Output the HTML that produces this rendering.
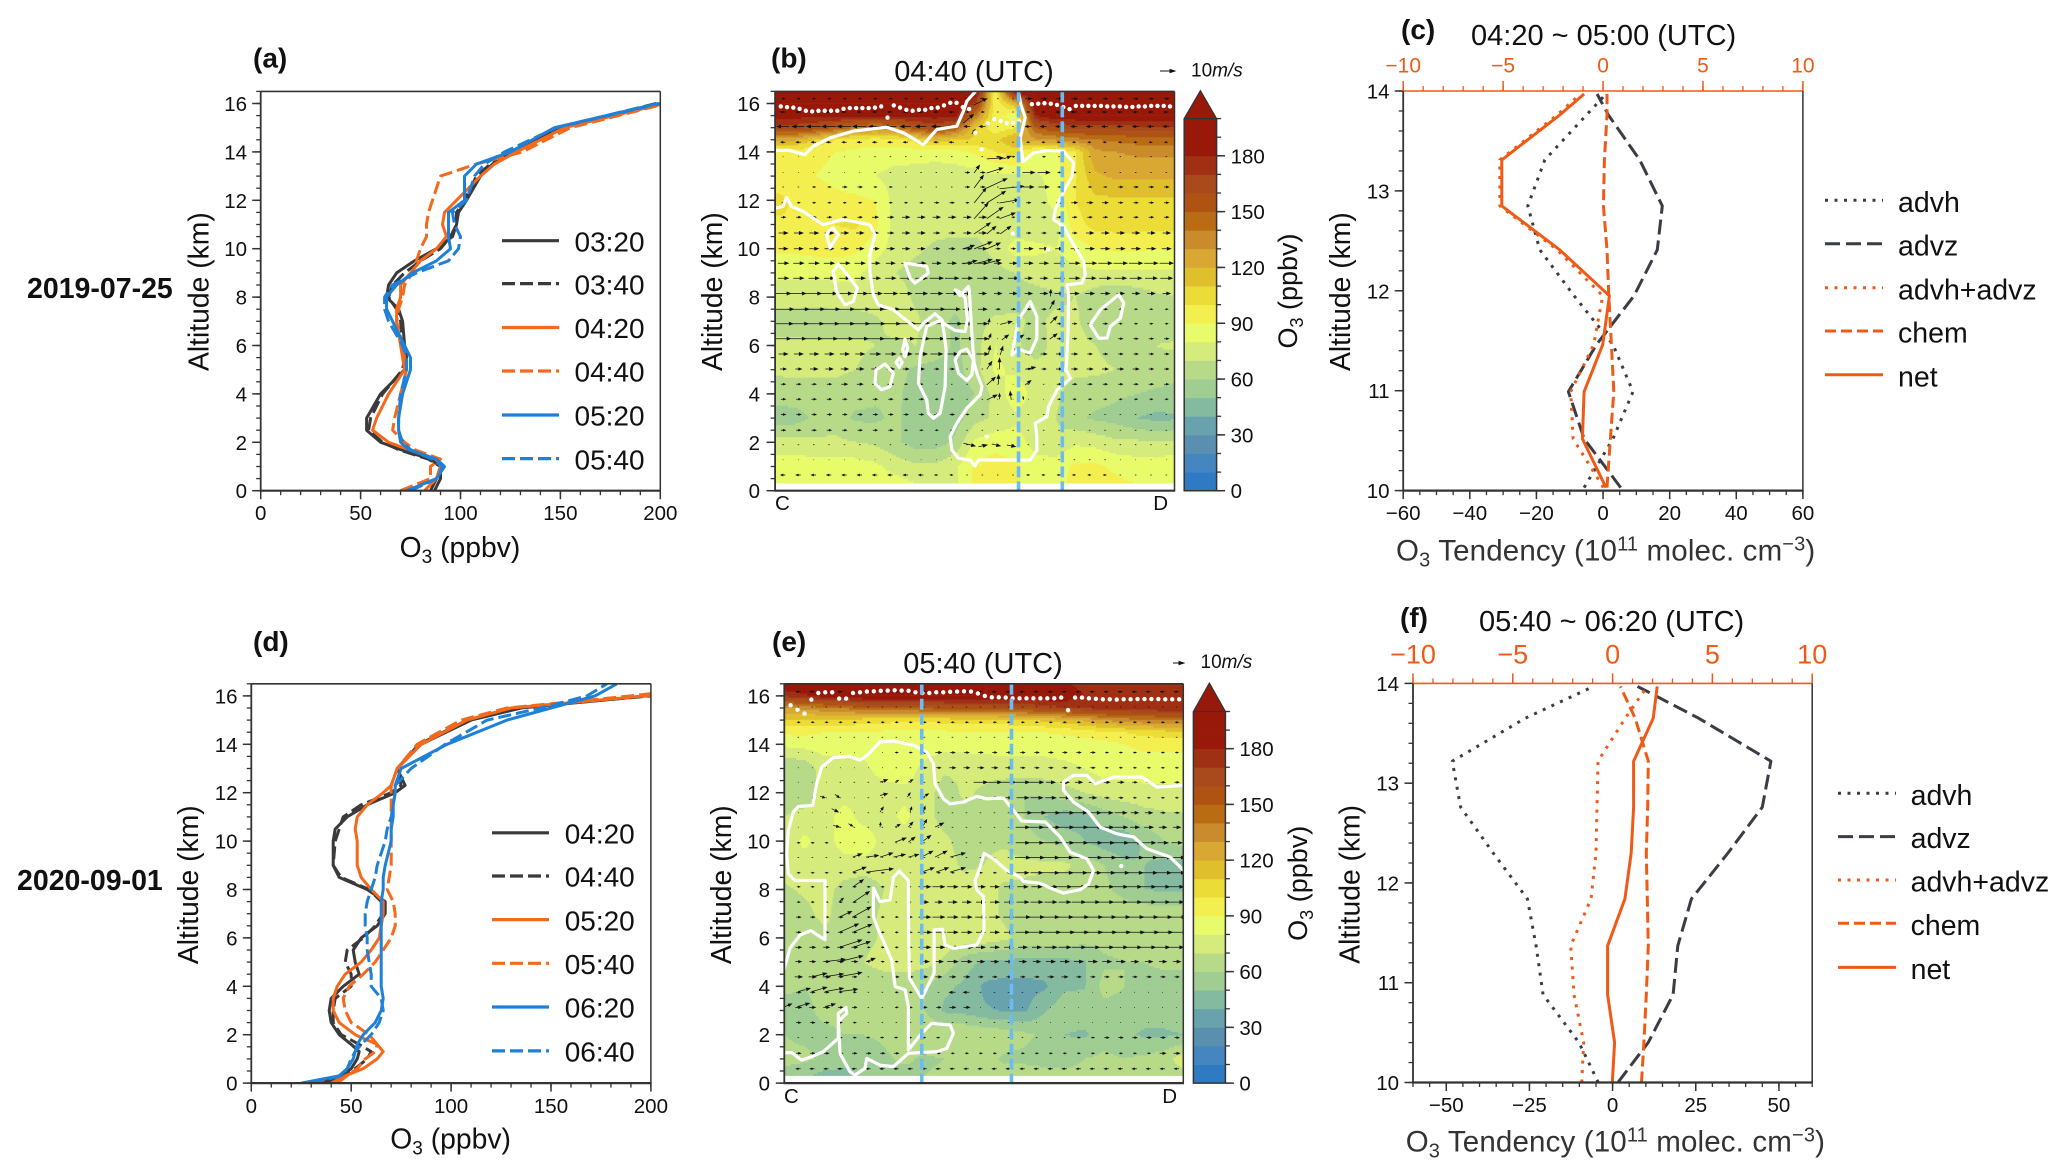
<!DOCTYPE html>
<html lang="en">
<head>
<meta charset="utf-8">
<title>Ozone profiles, cross sections and tendencies</title>
<style>
html,body{margin:0;padding:0;background:#fff;}
svg{display:block;font-family:"Liberation Sans",sans-serif;fill:#111;}
.tick{font-size:20.5px;}
.ttl{font-size:29px;}
.lab{font-size:28.3px;}
.tend{font-size:29.5px;letter-spacing:.15px;fill:#333;}
.leg{font-size:28px;}
.pan{font-size:28px;font-weight:bold;}
.date{font-size:28.5px;font-weight:bold;}
.ref{font-size:19px;}
</style>
</head>
<body>
<svg id="fig" xmlns="http://www.w3.org/2000/svg" width="2067" height="1176" viewBox="0 0 2067 1176">
<rect x="0" y="0" width="2067" height="1176" fill="#fff"/>
<defs>
<clipPath id="clipA"><rect x="260.7" y="91.4" width="399.6" height="399.3"/></clipPath>
<clipPath id="clipB"><rect x="775.1" y="91.4" width="399.4" height="399.3"/></clipPath>
<clipPath id="clipC"><rect x="1403.2" y="91" width="399.7" height="399.6"/></clipPath>
<clipPath id="clipD"><rect x="251.3" y="683.8" width="399.6" height="399.3"/></clipPath>
<clipPath id="clipE"><rect x="784.3" y="683.8" width="399" height="399.3"/></clipPath>
<clipPath id="clipF"><rect x="1413" y="683.4" width="399.2" height="399.1"/></clipPath>
</defs>

<text class="date" x="27" y="298">2019-07-25</text>
<text class="date" x="17" y="890">2020-09-01</text>

<text class="pan" x="253" y="67.5">(a)</text>
<text class="pan" x="771" y="67.5">(b)</text>
<text class="pan" x="1401" y="39">(c)</text>
<text class="pan" x="253" y="651">(d)</text>
<text class="pan" x="772" y="651">(e)</text>
<text class="pan" x="1400" y="627">(f)</text>

<g id="panelA"></g>
<g id="panelB"></g>
<g id="panelC"></g>
<g id="panelD"></g>
<g id="panelE"></g>
<g id="panelF"></g>

<!-- titles -->
<text class="ttl" x="974" y="81" text-anchor="middle">04:40 (UTC)</text>
<text class="ttl" x="983" y="673" text-anchor="middle">05:40 (UTC)</text>
<text class="ttl" x="1471" y="45">04:20 ~ 05:00 (UTC)</text>
<text class="ttl" x="1479" y="631">05:40 ~ 06:20 (UTC)</text>

<!-- y axis titles -->
<text class="lab" transform="translate(208.5 291.6) rotate(-90)" text-anchor="middle">Altitude (km)</text>
<text class="lab" transform="translate(722 291.6) rotate(-90)" text-anchor="middle">Altitude (km)</text>
<text class="lab" transform="translate(1350 291.6) rotate(-90)" text-anchor="middle">Altitude (km)</text>
<text class="lab" transform="translate(197.8 884.7) rotate(-90)" text-anchor="middle">Altitude (km)</text>
<text class="lab" transform="translate(731 884.7) rotate(-90)" text-anchor="middle">Altitude (km)</text>
<text class="lab" transform="translate(1359.7 884.3) rotate(-90)" text-anchor="middle">Altitude (km)</text>

<!-- x axis titles -->
<text class="lab" x="460" y="557" text-anchor="middle">O<tspan dy="6" font-size="19">3</tspan><tspan dy="-6"> (ppbv)</tspan></text>
<text class="lab" x="450.6" y="1148.4" text-anchor="middle">O<tspan dy="6" font-size="19">3</tspan><tspan dy="-6"> (ppbv)</tspan></text>
<text class="tend" x="1396" y="560.6">O<tspan dy="6" font-size="20">3</tspan><tspan dy="-6"> Tendency (10</tspan><tspan dy="-10" font-size="20">11</tspan><tspan dy="10"> molec. cm</tspan><tspan dy="-10" font-size="20">−3</tspan><tspan dy="10">)</tspan></text>
<text class="tend" x="1405.7" y="1151.6">O<tspan dy="6" font-size="20">3</tspan><tspan dy="-6"> Tendency (10</tspan><tspan dy="-10" font-size="20">11</tspan><tspan dy="10"> molec. cm</tspan><tspan dy="-10" font-size="20">−3</tspan><tspan dy="10">)</tspan></text>

<!-- colorbar titles -->
<text class="lab" font-size="27" transform="translate(1297 291) rotate(-90)" text-anchor="middle" style="font-size:27px">O<tspan dy="6" font-size="18">3</tspan><tspan dy="-6"> (ppbv)</tspan></text>
<text class="lab" transform="translate(1307 883.3) rotate(-90)" text-anchor="middle" style="font-size:27px">O<tspan dy="6" font-size="18">3</tspan><tspan dy="-6"> (ppbv)</tspan></text>

<!-- C / D endpoints -->
<text class="tick" x="775" y="510">C</text>
<text class="tick" x="1168" y="510" text-anchor="end">D</text>
<text class="tick" x="784" y="1103">C</text>
<text class="tick" x="1177" y="1103" text-anchor="end">D</text>

<!-- wind reference -->
<g>
<path d="M1160 71H1174M1170 69.4L1175 71L1170 72.6Z" stroke="#111" stroke-width=".9" fill="#111"/>
<text class="ref" x="1191" y="76.4">10<tspan font-style="italic">m/s</tspan></text>
</g>
<g>
<path d="M1173 663H1183M1179 661.4L1184 663L1179 664.6Z" stroke="#111" stroke-width=".9" fill="#111"/>
<text class="ref" x="1200.5" y="668">10<tspan font-style="italic">m/s</tspan></text>
</g>

<!-- legend a -->
<g stroke-width="3.2">
<line x1="502" x2="559" y1="240.7" y2="240.7" stroke="#3a3a3d"/>
<text class="leg" x="574.5" y="251.4" stroke="none">03:20</text>
<line x1="502" x2="559" y1="283.6" y2="283.6" stroke="#3a3a3d" stroke-dasharray="13 5"/>
<text class="leg" x="574.5" y="294.3" stroke="none">03:40</text>
<line x1="502" x2="559" y1="327.5" y2="327.5" stroke="#f4691c"/>
<text class="leg" x="574.5" y="338.2" stroke="none">04:20</text>
<line x1="502" x2="559" y1="371" y2="371" stroke="#f4691c" stroke-dasharray="13 5"/>
<text class="leg" x="574.5" y="381.7" stroke="none">04:40</text>
<line x1="502" x2="559" y1="415" y2="415" stroke="#1f80d8"/>
<text class="leg" x="574.5" y="425.7" stroke="none">05:20</text>
<line x1="502" x2="559" y1="458.6" y2="458.6" stroke="#1f80d8" stroke-dasharray="13 5"/>
<text class="leg" x="574.5" y="469.3" stroke="none">05:40</text>
</g>

<!-- legend d -->
<g stroke-width="3.2">
<line x1="492" x2="549" y1="832.8" y2="832.8" stroke="#3a3a3d"/>
<text class="leg" x="564.7" y="843.5" stroke="none">04:20</text>
<line x1="492" x2="549" y1="876" y2="876" stroke="#3a3a3d" stroke-dasharray="13 5"/>
<text class="leg" x="564.7" y="886.7" stroke="none">04:40</text>
<line x1="492" x2="549" y1="919.6" y2="919.6" stroke="#f4691c"/>
<text class="leg" x="564.7" y="930.3" stroke="none">05:20</text>
<line x1="492" x2="549" y1="963.3" y2="963.3" stroke="#f4691c" stroke-dasharray="13 5"/>
<text class="leg" x="564.7" y="974" stroke="none">05:40</text>
<line x1="492" x2="549" y1="1007" y2="1007" stroke="#1f80d8"/>
<text class="leg" x="564.7" y="1017.7" stroke="none">06:20</text>
<line x1="492" x2="549" y1="1050.9" y2="1050.9" stroke="#1f80d8" stroke-dasharray="13 5"/>
<text class="leg" x="564.7" y="1061.6" stroke="none">06:40</text>
</g>

<!-- legend c -->
<g stroke-width="3">
<line x1="1825" x2="1883" y1="200.2" y2="200.2" stroke="#3a3d45" stroke-dasharray="3 6.5"/>
<text class="leg" x="1898" y="211.8" stroke="none" style="font-size:28.5px">advh</text>
<line x1="1825" x2="1883" y1="243.8" y2="243.8" stroke="#3a3d45" stroke-dasharray="15 6"/>
<text class="leg" x="1898" y="255.4" stroke="none" style="font-size:28.5px">advz</text>
<line x1="1825" x2="1883" y1="287.8" y2="287.8" stroke="#ef5a17" stroke-dasharray="3 6.5"/>
<text class="leg" x="1898" y="299.4" stroke="none" style="font-size:28.5px">advh+advz</text>
<line x1="1825" x2="1883" y1="331" y2="331" stroke="#ef5a17" stroke-dasharray="11 5"/>
<text class="leg" x="1898" y="342.6" stroke="none" style="font-size:28.5px">chem</text>
<line x1="1825" x2="1883" y1="374.7" y2="374.7" stroke="#ef5a17"/>
<text class="leg" x="1898" y="386.3" stroke="none" style="font-size:28.5px">net</text>
</g>

<!-- legend f -->
<g stroke-width="3">
<line x1="1838" x2="1896" y1="793.3" y2="793.3" stroke="#3a3d45" stroke-dasharray="3 6.5"/>
<text class="leg" x="1910.6" y="804.9" stroke="none" style="font-size:28.5px">advh</text>
<line x1="1838" x2="1896" y1="836.6" y2="836.6" stroke="#3a3d45" stroke-dasharray="15 6"/>
<text class="leg" x="1910.6" y="848.2" stroke="none" style="font-size:28.5px">advz</text>
<line x1="1838" x2="1896" y1="880" y2="880" stroke="#ef5a17" stroke-dasharray="3 6.5"/>
<text class="leg" x="1910.6" y="891.6" stroke="none" style="font-size:28.5px">advh+advz</text>
<line x1="1838" x2="1896" y1="923.3" y2="923.3" stroke="#ef5a17" stroke-dasharray="11 5"/>
<text class="leg" x="1910.6" y="934.9" stroke="none" style="font-size:28.5px">chem</text>
<line x1="1838" x2="1896" y1="967.4" y2="967.4" stroke="#ef5a17"/>
<text class="leg" x="1910.6" y="979" stroke="none" style="font-size:28.5px">net</text>
</g>
</svg>

<script>
/* ---------- axis tick data ---------- */
const altitudeTicks = [0,2,4,6,8,10,12,14,16];
const o3Ticks = [0,50,100,150,200];
const colorbarTicks = [0,30,60,90,120,150,180];
const tendencyAltTicks = [10,11,12,13,14];
const tendencyTicksC = [-60,-40,-20,0,20,40,60];
const tendencyTicksF = [-50,-25,0,25,50];
const chemTicks = [-10,-5,0,5,10];

/* ---------- panel a: profiles ---------- */
const profileAltA = [0,0.5,1,1.3,1.7,2,2.5,3,4,5,5.5,6,7,7.5,8,8.5,9,9.5,10,10.5,11,11.5,12,13,13.5,14,15,16];
const a0320 = [87,90,90,85,70,60,53,53,60,72,73,72,71,69,63,64,68,77,88,96,98,99,103,110,116,127,150,200];
const a0340 = [85,88,90,84,69,61,54,55,61,71,72,71,70,68,64,66,72,80,90,95,98,98,102,108,115,127,148,198];
const a0420 = [82,88,90,88,74,64,56,58,64,72,71,70,68,68,70,70,75,80,88,93,91,92,98,110,117,128,152,202];
const a0440 = [70,85,85,90,77,72,66,67,70,73,72,71,68,69,71,72,76,78,80,83,83,84,86,90,108,131,155,203];
const a0520 = [73,88,92,88,74,70,69,69,71,75,75,72,66,63,63,68,76,88,95,94,94,94,102,102,108,125,147,199];
const a0540 = [75,88,91,86,75,71,69,69,70,73,73,71,64,62,62,66,78,94,99,100,97,96,103,107,112,122,148,200];

/* ---------- panel d: profiles ---------- */
const profileAltD = [0,0.3,0.6,1,1.3,1.6,2,2.5,3,3.5,4,4.5,5,5.5,6,6.5,7,7.5,8,8.5,9,10,10.5,11,11.5,12,12.3,13,14,15,15.5,16,16.5];
const d0420 = [38,45,50,53,54,50,44,40,39,40,46,54,52,51,55,63,67,67,58,44,41,41,42,48,58,72,77,73,85,110,135,198,260];
const d0440 = [35,45,52,58,60,54,45,41,41,42,50,50,47,48,56,62,66,65,59,45,41,42,44,46,55,70,75,73,84,108,132,200,260];
const d0520 = [40,47,56,63,66,63,52,44,41,41,43,47,55,60,64,65,66,66,60,55,53,53,52,53,58,66,70,73,85,108,130,197,255];
const d0540 = [43,48,53,57,62,63,59,50,47,46,49,56,62,66,70,72,72,71,68,69,70,70,70,70,70,70,70,73,83,105,128,190,245];
const d0620 = [25,44,48,51,52,53,56,62,65,66,65,65,65,65,65,65,65,65,66,66,67,70,70,71,71,72,72,75,98,128,150,172,183];
const d0640 = [30,45,48,50,52,55,60,64,66,65,60,60,59,58,58,57,57,58,60,62,63,67,68,70,71,72,72,80,97,118,145,168,178];

/* ---------- panel c: tendencies ---------- */
const tendAltC = [10.03,10.52,10.99,11.46,11.95,12.41,12.85,13.31,13.76,13.97];
const cAdvh = [-5.7,3,9,3,-8.7,-19,-22.6,-17.5,-5,0.9];
const cAdvz = [5.3,-5.7,-10.4,-2,9.3,16.3,17.8,11,1.6,-1.8];
const cAdvhAdvz = [0.1,-9,-9.7,-2.8,-0.1,-13.8,-31,-31,-13.8,-6.8];
const cChem = [0.2,0.37,0.54,0.42,0.29,0.2,0.02,0.07,0.2,0.2];
const cNet = [0.9,-6.2,-5.7,-0.1,1.9,-13,-30.4,-30.4,-13,-5.7];

/* ---------- panel f: tendencies ---------- */
const tendAltF = [10,10.4,10.88,11.37,11.84,12.3,12.76,13.22,13.65,13.97];
const fAdvh = [-4.3,-10.1,-20.9,-23,-25.6,-35.9,-45.7,-48.2,-26.3,-5.7];
const fAdvz = [1.6,10.7,18.2,19.6,23.7,34.7,45,47.6,25.9,7.5];
const fAdvhAdvz = [-9.3,-8.7,-11.6,-12.6,-6.5,-5,-4.7,-4.4,3.8,10.4];
const fChem = [1.45,1.57,1.69,1.79,1.74,1.69,1.76,1.79,1.13,0.39];
const fNet = [-0.1,0.6,-1.5,-1.5,3.7,5.6,6.3,6.3,12.2,13.4];

/* ---------- cross-section grids ---------- */
const sectionAltitudes = [0.3,1,2,3,4,5,6,7,8,9,10,11,12,13,14,14.5,15,15.5,16,16.5];
const sectionDistances = [0,60,120,180,240,300,360,420,480,540,600,660,720,780,840,900,960,1020,1080,1140,1200];
const o3GridB = [
[85,86,86,85,85,85,84,80,76,78,93,93,92,84,88,92,93,92,90,88,90],
[85,85,85,85,85,82,76,72,72,78,92,95,92,84,85,92,92,88,85,85,88],
[74,74,72,72,70,68,62,55,55,62,82,86,84,76,72,78,76,72,72,70,72],
[55,55,62,65,58,58,62,55,55,55,66,72,78,74,70,62,58,56,50,47,48],
[64,66,66,66,64,62,62,56,52,54,60,74,86,76,72,66,64,62,60,58,58],
[72,72,72,72,70,66,64,58,56,56,66,82,78,74,72,72,72,70,68,66,62],
[72,72,72,72,72,70,68,70,66,58,66,80,72,64,74,74,70,66,66,70,72],
[66,66,64,64,64,68,74,72,64,58,66,72,72,68,72,72,62,62,62,60,60],
[74,74,74,76,76,76,76,68,66,64,64,64,66,66,68,70,64,62,64,68,70],
[82,82,82,82,82,76,70,66,64,62,64,66,70,74,76,78,78,78,78,78,78],
[92,92,94,95,92,84,76,72,68,66,66,74,84,82,80,84,90,92,92,90,90],
[98,100,98,100,102,92,76,74,74,74,74,74,74,74,76,96,104,104,104,104,104],
[104,98,94,92,92,90,76,74,74,74,74,74,74,74,84,100,108,108,108,108,108],
[92,92,90,88,84,80,76,75,74,74,74,78,78,78,84,100,118,122,122,122,122],
[96,94,92,90,88,86,85,85,84,86,92,100,105,86,90,100,128,130,132,132,132],
[125,122,110,100,96,95,96,104,115,110,108,108,120,128,132,136,140,142,145,145,145],
[165,165,160,150,140,135,140,155,165,150,110,92,100,150,160,165,165,165,168,168,168],
[185,185,185,185,185,185,185,185,185,185,140,92,85,180,190,190,190,190,190,190,190],
[190,190,190,190,190,190,190,190,190,190,170,92,120,190,190,190,190,190,190,190,190],
[195,195,195,195,195,195,195,195,195,195,190,90,190,195,195,195,195,195,195,195,195]
];
const o3GridE = [
[58,52,46,46,52,56,56,60,62,62,64,64,64,64,64,64,64,64,64,64,66],
[62,62,58,54,52,58,62,58,60,62,64,58,58,56,54,60,62,60,62,66,76],
[60,58,58,60,60,62,66,68,70,70,68,66,62,58,50,48,56,52,48,48,50],
[56,58,62,62,62,62,60,60,48,46,41,39,38,49,56,56,56,56,56,56,58],
[62,60,62,62,60,60,62,60,52,48,38,36,36,38,48,49,64,60,56,56,56],
[66,68,66,66,70,76,76,74,68,54,48,47,47,47,47,49,58,60,60,62,62],
[62,60,66,70,66,72,76,76,76,76,76,72,66,66,66,64,64,64,64,62,62],
[62,66,74,62,66,72,76,76,76,76,74,68,66,66,66,66,66,66,66,66,66],
[68,72,74,66,62,70,76,76,76,76,74,68,68,66,64,64,62,56,50,48,48],
[76,76,76,76,76,76,76,76,74,68,70,74,72,72,72,66,60,52,50,46,46],
[74,82,76,84,86,76,76,76,72,66,68,68,64,60,56,50,44,42,52,60,64],
[70,74,76,84,76,76,82,74,66,66,68,66,60,50,44,46,54,60,66,68,68],
[62,62,74,76,76,76,78,76,64,72,68,62,60,62,66,70,74,76,76,76,76],
[60,62,76,76,78,84,84,78,72,72,74,76,76,76,78,80,84,84,86,86,86],
[82,84,84,84,84,84,84,84,84,84,84,84,84,84,84,84,86,90,92,92,92],
[92,92,90,90,90,88,88,88,88,90,90,90,90,90,92,95,98,100,104,106,108],
[108,108,108,108,105,104,102,102,104,106,106,106,108,112,116,122,130,135,138,140,142],
[130,132,138,140,150,150,150,152,155,156,156,158,160,165,170,172,175,175,178,180,180],
[172,178,185,188,190,190,190,190,190,190,190,190,190,190,188,180,178,175,176,178,180],
[190,190,190,190,190,190,190,190,190,190,190,190,190,190,182,176,176,176,172,172,172]
];

/* ---------- O3 contours: [distance, altitude] ---------- */
const contourBTop = [[0,14.06],[44,14.06],[89,13.89],[114,14.23],[164,14.58],[234,14.86],[334,15.02],[384,14.79],[444,14.3],[484,14.92],[524,15.02],[544,15.06],[564,15.68],[574,16.1],[599,16.48]];
const contourBLeft = [[0,11.68],[24,11.75],[34,12.12],[49,11.75],[84,11.54],[144,10.99],[199,11.2],[234,11.13],[284,10.99],[299,10.58],[284,9.75],[284,9.06],[294,8.1],[309,7.68],[354,7.48],[404,6.92],[429,6.65],[444,6.92],[479,7.31],[499,7.06],[506,6.51],[512,5.82],[509,4.3],[494,3.2],[474,2.99],[459,3.2],[454,3.75],[429,4.44],[434,5.54],[454,6.79],[499,7.06],[504,6.92],[539,6.62],[569,6.58],[576,7.06],[569,7.96],[556,8.19],[539,8.3],[554,8.07],[579,8.44],[582,8.17],[589,6.51],[596,5.27],[606,4.79],[620,4.3],[614,3.96],[574,3.41],[544,2.79],[524,2.23],[529,1.68],[549,1.34],[584,1.27],[599,1.02],[609,1.27],[764,1.27],[784,1.68],[784,2.23],[779,2.79],[814,3.06],[819,3.48],[844,4.17],[869,4.44],[884,4.65],[872,5],[877,6.51],[879,8.1],[874,8.51],[919,8.58],[929,8.92],[924,9.48],[894,10.17],[864,10.92],[834,11.2],[839,11.61],[864,12.37],[889,12.99],[894,13.54],[864,14.03],[814,14.06],[774,13.96],[742,13.59],[734,14.58],[749,15.41],[736,15.96],[729,16.48]];
const contourBLoop1 = [[164,10.79],[154,10.58],[164,10.03],[189,10.58],[174,10.86],[164,10.79]];
const contourBLoop2 = [[174,9.06],[189,9.37],[224,8.79],[246,8.37],[234,7.82],[209,7.68],[184,8.23],[174,9.06]];
const contourBLoop3 = [[389,9.41],[454,9.27],[459,8.99],[419,8.58],[404,8.79],[389,9.41]];
const contourBLoop4 = [[329,5.24],[354,4.86],[344,4.3],[319,4.17],[299,4.44],[302,4.99],[329,5.24]];
const contourBLoop5 = [[389,6.26],[397,5.89],[389,5.54],[382,5.82],[389,6.26]];
const contourBLoop6 = [[372,5.48],[381,5.3],[372,5.1],[362,5.3],[372,5.48]];
const contourBLoop7 = [[574,5.85],[594,5.41],[589,4.79],[574,4.55],[549,4.86],[539,5.41],[554,5.75],[574,5.85]];
const contourBLoop8 = [[764,7.82],[784,7.2],[784,6.3],[764,5.68],[729,5.85],[709,5.61],[729,7.06],[764,7.82]];
const contourBLoop9 = [[1029,8.1],[1044,7.75],[1034,7.13],[1004,6.79],[994,6.3],[969,6.3],[944,6.86],[974,7.48],[1029,8.1]];
const contourEMain = [[0,4.74],[17,5.57],[47,6.12],[79,6.3],[122,5.92],[122,8.37],[67,8.37],[32,8.37],[12,8.65],[7,9.48],[12,10.44],[27,11.2],[42,11.43],[85,11.48],[97,12.37],[112,13.06],[147,13.45],[197,13.5],[227,13.34],[252,13.59],[287,14.1],[327,14.14],[387,13.96],[427,13.68],[447,13.2],[452,12.37],[477,11.75],[497,11.54],[537,11.61],[577,11.85],[607,11.75],[657,11.78],[687,11.27],[712,10.83],[782,10.79],[827,10.17],[857,9.54],[907,9.27],[927,8.79],[912,8.23],[887,7.99],[837,7.85],[797,8.06],[767,8.26],[717,8.33],[707,8.51],[667,8.79],[627,9.27],[599,9.5],[587,8.92],[572,8.37],[577,7.99],[597,7.71],[599,6.33],[577,5.71],[507,5.57],[482,5.71],[474,6.36],[449,6.33],[449,4.54],[412,3.5],[375,4.33],[372,7.02],[372,8.37],[345,8.76],[327,8.51],[322,8.03],[317,7.57],[287,7.5],[267,8.06],[267,6.88],[282,6.33],[322,5.09],[332,3.99],[362,3.85],[372,3.16],[372,1.37],[412,2.06],[442,2.47],[497,2.4],[507,2.06],[487,1.43],[457,1.3],[372,1.23],[327,0.68],[287,0.74],[247,1.02],[242,0.61],[212,0.33],[197,0.47],[167,1.23],[162,2.54],[187,2.88],[185,3.13],[162,2.88],[162,1.85],[117,1.3],[82,1.09],[52,0.95],[22,1.26],[0,1.26]];
const contourERight = [[1197,12.3],[1117,12.23],[1072,12.65],[987,12.65],[932,12.37],[907,12.72],[867,12.72],[837,12.44],[837,12.1],[867,11.61],[912,11.2],[947,10.58],[997,10.3],[1047,10.17],[1087,9.68],[1157,9.34],[1197,8.79]];

/* ---------- tropopause dots (altitude by profile index) ---------- */
const tropopauseB = [15.88,15.85,15.83,15.78,15.70,15.67,15.70,15.70,15.70,15.70,15.78,15.81,15.81,15.81,15.81,15.83,15.88,15.42,15.92,15.83,15.74,15.70,15.74,15.74,15.81,15.83,15.92,16.03,16.03,15.85,15.77,14.8,14.11,15.19,15.35,15.28,15.19,15.21,15.28,null,15.97,15.99,16.01,15.99,15.94,15.85,15.77,15.90,15.90,15.90,15.90,15.90,15.88,15.88,15.88,15.86,15.86,15.88,15.88,15.90,15.90,15.90,15.88];
const tropopauseE = [null,15.61,15.43,15.27,15.85,16.12,16.15,16.15,15.89,15.89,16.12,16.15,16.18,16.19,16.21,16.22,16.23,16.22,16.21,16.15,16.12,16.12,16.15,16.15,16.17,16.18,16.19,16.18,16.1,16.0,15.94,15.94,15.93,15.9,15.9,15.9,15.9,15.9,15.9,15.9,15.93,15.41,15.93,15.93,15.9,15.88,15.86,15.86,15.85,15.86,15.86,15.87,15.87,15.87,15.87,15.86,15.86,15.86];
const extraDotsB = [[712,10.62],[817,9.97],[634,2.23],[869,5]];
const extraDotsE = [[1010,8.97]];
const sectionMarksB = [729,860];
const sectionMarksE = [412,681];

/* ---------- wind: zonal speed (m/s) by level and along-section block ---------- */
const windAltB = [0.65,1.28,1.9,2.5,3.15,3.78,4.4,5.03,5.65,6.28,6.9,7.5,8.15,8.78,9.4,10,10.65,11.3,11.9,12.55,13.15,13.8,14.4,15.05,15.65,16.2];
const windUB = [
[-3,-3,-3,-3,-3,-2,-1,-1,-2,-2,-2,-1,-1],
[.4,.4,.4,.4,.4,.4,.4,.4,.5,-1,-1,.4,.4],
[1,1,1,1,1,1,1,1,-1,-1,-1,1,1],
[3,3,3,3,2,2,1,1,1,1,1,1,1],
[3,3,3,3,3,3,2,1,1,1,1,1,1],
[3,3,3,3,3,2,1,.5,.5,2,2,2,2],
[3,3,4,4,2,-1,-1,.5,1,3,3,3,3],
[4,5,5,5,4,3,1,.5,3,4,4,4,3],
[6,6,6,7,8,8,8,.5,4,4,3,3,3],
[10,11,11,12,11,10,8,.5,3,3,3,3,3],
[13,13,13,13,13,13,7,.5,3,3,3,2,2],
[14,14,13,12,11,11,6,3,3,3,3,2,2],
[10,10,10,9,8,8,5,5,5,6,6,5,5],
[7,7,7,7,8,9,7,7,5,7,8,8,8],
[7,7,7,6,6,6,7,5,6,7,9,9,9],
[6,6,5,5,5,4,6,3,6,5,6,6,6],
[6,6,5,4,5,4,5,2,3,3,5,5,5],
[3,3,3,4,5,5,5,2,3,3,3,3,3],
[2,2,2,2,2,3,2,1,3,4,4,3,3],
[1,2,3,2,1,1,3,1,7,2,2,3,3],
[.5,.5,.5,1,1,1,3,1,8,2,1,1,1],
[.5,.5,.5,1,1,1,1,2,2,1,1,1,1],
[-3,-3,-3,-3,-3,-3,-1,-1,-2,-2,-2,-2,-2],
[-8,-9,-9,-8,-7,-6,-4,1,-4,-4,-4,-4,-4],
[-3,-3,-3,-3,-3,-3,2,1,-2,-4,-3,-3,-3],
[2,2,2,2,2,2,3,1,4,4,3,3,3]
];
const windAltE = [0.59,1.23,1.88,2.5,3.13,3.75,4.39,5.02,5.61,6.23,6.86,7.48,8.11,8.69,9.32,9.93,10.57,11.17,11.79,12.43,13.03,13.66,14.29,14.91,15.54,16.17];
const windUE = [
[-3,-3,-3,-3,-3,-3,-3,-3,-3,-3,-3,-3,-3],
[3,3,3,3,2,2,2,2,2,2,2,2,4],
[1,2,-2,-2,-2,-1,1,1,1,2,3,3,3],
[3,2,-1,1,-1,1,1,.5,.5,.5,.5,.5,.5],
[4,3,1,2,3,4,.5,.5,.5,.5,.5,.5,.5],
[3,2,1,2,1,-4,1,1,.5,.5,.5,.5,.5],
[5,3,1,3,4,4,3,3,4,3,3,3,3],
[4,4,2,2,6,7,5,5,6,6,6,5,5],
[4,4,2,2,8,8,6,6,8,9,9,9,9],
[3,3,2,2,9,7,6,9,13,13,13,13,13],
[3,3,2,2,8,7,7,10,11,13,12,12,12],
[2,2,1,1,5,6,6,8,8,9,9,9,9],
[2,2,2,1,8,7,6,7,9,9,9,9,9],
[2,2,2,1,2,2,2,8,11,11,11,11,11],
[1,1,1,1,1,1,1,10,11,12,12,11,11],
[2,1,1,1,1,1,1,9,12,12,10,9,7],
[.5,-1,1,1,1,1,1,9,12,12,9,6,5],
[.5,.5,-1,.5,1,1,1,12,12,11,8,5,3],
[.5,.5,1,1,1,1,4,8,7,5,3,2,2],
[.5,1,1,1,1,1,9,9,6,5,4,3,3],
[.5,.5,.5,1,3,4,4,3,3,3,2,2,2],
[.5,.5,.5,2,4,3,3,3,3,3,2,2,2],
[1,1,1,1,1,1,1,1,1,1,1,1,1],
[2,2,2,2,2,2,2,2,2,2,2,2,2],
[-1,-1,-1,-1,-1,-1,-1,-1,-1,-1,-1,-1,-1],
[-3,-3,-3,-3,-3,-3,-3,-3,-3,-3,-3,-3,-3]
];
/* individually read slanted wind arrows: [distance, altitude, u, w] */
const slantWindB = [
[596,13.13,3.6,5.1],[596,12.51,6.2,8.4],[634,13.13,10.7,3.3],[634,12.51,13.3,6.2],[672,12.48,16,1.6],[596,11.89,8,10],[634,11.89,12.4,7.8],[672,11.89,12.7,2.2],[596,11.24,9.3,10.4],[634,11.24,10.7,7.6],[672,11.24,10.4,3.8],[596,10.61,10.7,7.3],[674,10.61,7.1,5.1],[634,10.61,6,5],[562,9.99,7.6,2.4],[596,9.99,11.8,4.7],[634,9.99,8.9,4],[562,9.37,9.3,2.2],[596,9.37,11.8,2.9],[634,9.4,8.9,2.2],[634,13.71,11,.7],[684,13.71,4.9,1.8],[564,15.2,6.7,5.6],[594,15.93,8.9,4.4],[589,14.74,2.2,2.9],
[639,6.86,.7,3.8],[639,6.23,1.6,4],[639,5.66,1.1,5.3],[634,5.02,3.3,5.1],[634,4.37,5.6,5.1],[634,3.75,6.7,3.3],[674,5.61,1.8,5.6],[672,5.02,0,7.3],[669,4.4,0,6.2],[672,3.78,0,3.6],[707,3.75,-.7,5.6],[744,3.75,-.4,2.2],[711,5.61,1.1,5.6],[719,6.23,5.6,3.3],[674,6.87,7.8,2],[679,6.23,4.4,3.3],[824,6.92,4.4,4.4],[822,6.26,4.9,3.6],[822,7.5,3.1,5.8],[824,8.03,.4,4.4],[749,5.02,6.7,1.3],[749,4.37,3.8,2.9],[564,1.96,7.8,-1.8],[609,1.82,5.6,1.1],[649,1.93,5.6,-1.3],[694,1.89,5.6,-1.1]
];
const slantWindE = [
[205,7.46,11.1,7.3],[165,6.86,8.2,3.8],[205,6.86,12,6.7],[165,6.23,12.7,5.6],[205,6.23,12.7,5.3],[165,5.61,14.9,4.9],[205,5.61,11.6,3.8],[122,5.02,13.3,1.6],[165,5.02,15.6,3.8],[245,5.02,6,2.2],[85,4.4,9.3,2.2],[122,4.4,12.2,1.8],[165,4.4,14.9,2.7],[42,3.78,7.8,2.2],[82,3.78,10,2.9],[122,3.78,12.2,2.2],[165,3.78,12,1.6],[2,3.16,4.4,1.8],[39,3.16,8,2.2],[122,3.16,6.7,1.8],[205,8.1,7.1,4.9],[165,7.5,2.7,2.2],
[205,8.72,8.9,3.3],[205,9.34,6,2.2],[245,9.34,8.2,1.1],[287,9.34,8.4,2.7],[327,9.34,7.8,1.8],[372,9.34,6.7,1.8],[412,9.34,7.3,4],[452,9.34,7.8,4],[497,9.34,10,2.7],[245,8.72,18,2.2],[412,8.72,8.2,2.9],[455,8.72,8.2,2.9],[497,8.72,10,2.9],[412,9.96,6,4.4],[452,10.58,5.6,2.7],[417,10.65,2.2,3.8],[372,10.58,2.9,3.3],[332,10.58,3.3,1.8],[287,10.58,.4,2.9],[332,9.96,7.3,2.7],[372,9.96,4.4,3.3],[142,11.34,4.4,-2.2],[152,11.93,2.9,-2.2],[107,11.85,3.3,-.9],[287,11.89,4.9,1.1],[369,11.82,1.8,2.7],[417,11.82,3.3,2.2],[287,12.44,4.9,1.6],[332,12.44,2.2,1.1],[372,12.44,2.9,1.6],[147,10.65,4,-1.1],[192,10.72,2.9,-1.6],[287,11.2,2.2,3.3],[377,11.2,1.1,3.3],[417,11.2,1.1,3.8]
];

/* colour scale, one colour per 10 ppbv band */
const o3BandColors = ['#2e7bc3','#4686c0','#5a8fb0','#68a3ad','#84bba0','#9fcd92','#b6da88','#d5eb7c','#e8fb6a','#f4ef50','#ecdc37','#dfbf2c','#d9a833','#c98b2c','#b96c14','#ae5314','#a84a1c','#a03014','#98190a','#98190a'];

const NS = 'http://www.w3.org/2000/svg';
const DARK = '#3a3a3d', AXIS = '#333', ORANGE = '#f4691c', BLUE = '#1f80d8', RED = '#ef5a17', DARK2 = '#3a3d45';

function mk(parent, tag, attrs, text) {
  const e = document.createElementNS(NS, tag);
  for (const k in attrs) e.setAttribute(k, attrs[k]);
  if (text !== undefined) e.textContent = text;
  parent.appendChild(e);
  return e;
}
function fmt(v) { return String(v).replace('-', '\u2212'); }

function linear(d0, d1, r0, r1) { return v => r0 + (v - d0) / (d1 - d0) * (r1 - r0); }

function hLine(g, x1, x2, y, color, w, name) {
  const e = mk(g, 'line', {x1: x1, x2: x2, y1: y, y2: y, stroke: color, 'stroke-width': w});
  
  
}
function vLine(g, x, y1, y2, color, w, name) {
  const e = mk(g, 'line', {x1: x, x2: x, y1: y1, y2: y2, stroke: color, 'stroke-width': w});
  
  
}
function label(g, x, y, anchor, txt, color, size, name) {
  const e = mk(g, 'text', {x: x, y: y, 'text-anchor': anchor, fill: color, 'font-size': size}, txt);
  
  
}

function yAxis(g, p, yS, ticks, minorStep, lo, hi, labelRight) {
  for (let v = lo; v <= hi + 1e-6; v += minorStep) {
    hLine(g, p.l - 4.5, p.l, yS(v), AXIS, 1.3, 'y-minor-tick');
  }
  ticks.forEach(t => {
    hLine(g, p.l - 8.5, p.l, yS(t), AXIS, 1.5, 'y-major-tick');
    label(g, labelRight, yS(t) + 7.5, 'end', fmt(t), '#111', 20.5, 'y-tick-label');
  });
}
function xAxis(g, p, xS, ticks, minorStep, lo, hi, base) {
  for (let v = lo; v <= hi + 1e-6; v += minorStep) {
    vLine(g, xS(v), p.b, p.b + 4.5, AXIS, 1.3, 'x-minor-tick');
  }
  ticks.forEach(t => {
    vLine(g, xS(t), p.b, p.b + 8.5, AXIS, 1.5, 'x-major-tick');
    label(g, xS(t), base, 'middle', fmt(t), '#111', 20.5, 'x-tick-label');
  });
}
function frame(g, p, topColor) {
  hLine(g, p.l, p.r, p.t, topColor, 1.6, 'plot-top-spine');
  vLine(g, p.r, p.t, p.b, AXIS, 1.5, 'plot-right-spine');
  vLine(g, p.l, p.t, p.b, AXIS, 1.8, 'plot-left-spine');
  hLine(g, p.l - 0.7, p.r + 0.7, p.b, AXIS, 2.2, 'plot-bottom-spine');
}
function seriesLine(g, alts, vals, xS, yS, color, dash, w, clip, name) {
  const pts = vals.map((v, i) => xS(v).toFixed(1) + ',' + yS(alts[i]).toFixed(1)).join(' ');
  const e = mk(g, 'polyline', {points: pts, fill: 'none', stroke: color, 'stroke-width': w, 'stroke-linejoin': 'round', 'stroke-dasharray': dash, 'clip-path': 'url(#' + clip + ')'});
  
  
}

/* ---- profile panels ---- */
function profilePanel(id, p, clip, alts, series, labelRight, tickBase) {
  const g = document.getElementById(id);
  const xS = linear(0, 200, p.l, p.r), yS = linear(0, 16.5, p.b, p.t);
  series.forEach(s => seriesLine(g, alts, s.v, xS, yS, s.c, s.d, 3, clip, s.n));
  frame(g, p, AXIS);
  yAxis(g, p, yS, altitudeTicks, 0.5, 0, 16.5, labelRight);
  xAxis(g, p, xS, o3Ticks, 10, 0, 200, tickBase);
}
profilePanel('panelA', {l: 260.7, r: 660.3, t: 91.4, b: 490.7}, 'clipA', profileAltA, [
  {v: a0320, c: DARK, d: 'none', n: 'series-0320'},
  {v: a0340, c: DARK, d: '13 5', n: 'series-0340'},
  {v: a0420, c: ORANGE, d: 'none', n: 'series-0420'},
  {v: a0440, c: ORANGE, d: '13 5', n: 'series-0440'},
  {v: a0520, c: BLUE, d: 'none', n: 'series-0520'},
  {v: a0540, c: BLUE, d: '13 5', n: 'series-0540'}
], 247, 520);
profilePanel('panelD', {l: 251.3, r: 650.9, t: 683.8, b: 1083.1}, 'clipD', profileAltD, [
  {v: d0420, c: DARK, d: 'none', n: 'series-0420'},
  {v: d0440, c: DARK, d: '13 5', n: 'series-0440'},
  {v: d0520, c: ORANGE, d: 'none', n: 'series-0520'},
  {v: d0540, c: ORANGE, d: '13 5', n: 'series-0540'},
  {v: d0620, c: BLUE, d: 'none', n: 'series-0620'},
  {v: d0640, c: BLUE, d: '13 5', n: 'series-0640'}
], 237.5, 1113);

/* ---- tendency panels ---- */
function tendencyPanel(id, p, clip, alts, s, ticks, labelRight, tickBase, topBase, topSize) {
  const g = document.getElementById(id);
  const xS = linear(-60, 60, p.l, p.r), xT = linear(-10, 10, p.l, p.r), yS = linear(10, 14, p.b, p.t);
  seriesLine(g, alts, s.advh, xS, yS, DARK2, '3 6.5', 3, clip, 'series-advh');
  seriesLine(g, alts, s.advz, xS, yS, DARK2, '15 6', 3, clip, 'series-advz');
  seriesLine(g, alts, s.sum, xS, yS, RED, '3 6.5', 3, clip, 'series-advh-advz');
  seriesLine(g, alts, s.chem, xT, yS, RED, '11 5', 3, clip, 'series-chem');
  seriesLine(g, alts, s.net, xS, yS, RED, 'none', 3, clip, 'series-net');
  frame(g, p, RED);
  yAxis(g, p, yS, tendencyAltTicks, 0.2, 10, 14, labelRight);
  xAxis(g, p, xS, ticks, 5, -60, 60, tickBase);
  for (let v = -10; v <= 10; v += 1) {
    vLine(g, xT(v), p.t - 5, p.t, RED, 1.3, 'top-minor-tick');
  }
  chemTicks.forEach(t => {
    vLine(g, xT(t), p.t - 10, p.t, RED, 1.5, 'top-major-tick');
    label(g, xT(t), topBase, 'middle', fmt(t), RED, topSize, 'top-tick-label');
  });
}
tendencyPanel('panelC', {l: 1403.2, r: 1802.9, t: 91, b: 490.6}, 'clipC', tendAltC,
  {advh: cAdvh, advz: cAdvz, sum: cAdvhAdvz, chem: cChem, net: cNet}, tendencyTicksC, 1389.5, 520, 72.6, 21);
tendencyPanel('panelF', {l: 1413, r: 1812.2, t: 683.4, b: 1082.5}, 'clipF', tendAltF,
  {advh: fAdvh, advz: fAdvz, sum: fAdvhAdvz, chem: fChem, net: fNet}, tendencyTicksF, 1399, 1112, 663.6, 27);

/* ---- cross sections ---- */
function bracket(arr, v) {
  let i = 0;
  while (i < arr.length - 2 && arr[i + 1] < v) i++;
  return i;
}
function heatmap(g, p, grid, xInv, yInv) {
  const paths = o3BandColors.map(() => []);
  const STEP = 2;
  for (let y = p.t; y < p.b; y += STEP) {
    const alt = yInv(y + STEP / 2);
    if (alt < sectionAltitudes[0]) continue;
    const r = bracket(sectionAltitudes, alt);
    const ft = Math.min(1, (alt - sectionAltitudes[r]) / (sectionAltitudes[r + 1] - sectionAltitudes[r]));
    let runStart = p.l, runBand = -1;
    for (let x = p.l; x <= p.r + 0.01; x += 1) {
      const d = xInv(x + 0.5);
      const c = bracket(sectionDistances, d);
      const fx = Math.max(0, Math.min(1, (d - sectionDistances[c]) / (sectionDistances[c + 1] - sectionDistances[c])));
      const v = (grid[r][c] * (1 - fx) + grid[r][c + 1] * fx) * (1 - ft) + (grid[r + 1][c] * (1 - fx) + grid[r + 1][c + 1] * fx) * ft;
      const band = x > p.r ? -2 : Math.max(0, Math.min(19, Math.floor(v / 10)));
      if (band !== runBand) {
        if (runBand >= 0) paths[runBand].push('M' + runStart.toFixed(1) + ' ' + y.toFixed(1) + 'h' + (x - runStart).toFixed(1) + 'v' + STEP + 'h' + (runStart - x).toFixed(1) + 'z');
        runStart = x;
        runBand = band;
      }
    }
    if (runBand >= 0) paths[runBand].push('M' + runStart.toFixed(1) + ' ' + y.toFixed(1) + 'H' + p.r + 'v' + STEP + 'H' + runStart.toFixed(1) + 'z');
  }
  paths.forEach((segs, i) => {
    if (!segs.length) return;
    const e = mk(g, 'path', {d: segs.join(''), fill: o3BandColors[i], stroke: o3BandColors[i], 'stroke-width': 0.3});
    
    
  });
}
function arrow(g, x0, y0, x1, y1) {
  const dx = x1 - x0, dy = y1 - y0, len = Math.hypot(dx, dy) || 1;
  const ux = dx / len, uy = dy / len;
  let d = 'M' + x0.toFixed(1) + ' ' + y0.toFixed(1) + 'L' + x1.toFixed(1) + ' ' + y1.toFixed(1);
  if (len >= 2.5) {
    const hl = Math.min(3.6, len * 0.45), hw = Math.min(1.4, len * 0.18);
    const bx = x1 - ux * hl, by = y1 - uy * hl;
    d += 'M' + x1.toFixed(1) + ' ' + y1.toFixed(1) + 'L' + (bx - uy * hw).toFixed(1) + ' ' + (by + ux * hw).toFixed(1) +
      'L' + (bx + uy * hw).toFixed(1) + ' ' + (by - ux * hw).toFixed(1) + 'Z';
  }
  const e = mk(g, 'path', {d: d, stroke: '#111', 'stroke-width': 0.75, fill: '#111'});
  
  
}
function contour(g, pts, xS, yS) {
  const s = pts.map(q => xS(q[0]).toFixed(1) + ',' + yS(q[1]).toFixed(1)).join(' ');
  const e = mk(g, 'polyline', {points: s, fill: 'none', stroke: '#fff', 'stroke-width': 3.2, 'stroke-linejoin': 'round', 'stroke-linecap': 'round'});
  
  
}
function sectionPanel(id, p, clip, cfg) {
  const g = document.getElementById(id);
  const inner = mk(g, 'g', {'clip-path': 'url(#' + clip + ')'});
  
  
  const xS = linear(0, 1196, p.l, p.r), yS = linear(0, 16.5, p.b, p.t);
  const xInv = linear(p.l, p.r, 0, 1196), yInv = linear(p.b, p.t, 0, 16.5);
  heatmap(inner, p, cfg.grid, xInv, yInv);

  cfg.windAlt.forEach((alt, r) => {
    for (let c = 0; c < cfg.nCols; c++) {
      const u = cfg.windU[r][Math.floor(c * 13 / cfg.nCols)];
      const cx = xS(cfg.firstD + c * cfg.stepD), cy = yS(alt), half = u * 1.5 / 2;
      arrow(inner, cx - half, cy, cx + half, cy);
    }
  });
  cfg.slant.forEach(a => {
    const x0 = xS(a[0]), y0 = yS(a[1]);
    arrow(inner, x0, y0, x0 + a[2] * 1.5, y0 - a[3] * 1.5);
  });
  cfg.contours.forEach(c => contour(inner, c, xS, yS));
  cfg.marks.forEach(d => {
    const e = mk(g, 'line', {x1: xS(d), x2: xS(d), y1: p.t, y2: p.b, stroke: '#6cbcf3', 'stroke-width': 3.6, 'stroke-dasharray': '11 4'});
    
    
  });
  cfg.tropopause.forEach((alt, i) => {
    if (alt === null) return;
    const e = mk(inner, 'circle', {cx: xS(cfg.dotFirst + i * cfg.dotStep), cy: yS(alt), r: 2.2, fill: '#fff'});
    
    
  });
  cfg.extra.forEach(q => {
    const e = mk(inner, 'circle', {cx: xS(q[0]), cy: yS(q[1]), r: 2.2, fill: '#fff'});
    
    
  });
  frame(g, p, AXIS);
  yAxis(g, p, yS, altitudeTicks, 0.5, 0, 16.5, cfg.labelRight);

  /* colorbar */
  const cb = cfg.cb, vS = linear(0, 200, p.b, cb.top);
  const cg = mk(g, 'g', {});
  
  
  o3BandColors.forEach((col, i) => {
    const y1 = vS((i + 1) * 10), y0 = vS(i * 10);
    const e = mk(cg, 'rect', {x: cb.l, y: y1, width: cb.r - cb.l, height: y0 - y1 + 0.4, fill: col});
    
    
  });
  const tip = mk(cg, 'path', {d: 'M' + cb.l + ' ' + cb.top + 'L' + (cb.l + cb.r) / 2 + ' ' + cb.tip + 'L' + cb.r + ' ' + cb.top + 'Z', fill: o3BandColors[19], stroke: AXIS, 'stroke-width': 1.2});
  
  
  const box = mk(cg, 'path', {d: 'M' + cb.l + ' ' + cb.top + 'V' + p.b + 'H' + cb.r + 'V' + cb.top, fill: 'none', stroke: AXIS, 'stroke-width': 1.5});
  
  
  for (let v = 0; v <= 200; v += 10) {
    hLine(cg, cb.r, cb.r + 4.5, vS(v), AXIS, 1.3, 'colorbar-minor-tick');
  }
  colorbarTicks.forEach(t => {
    hLine(cg, cb.r, cb.r + 8.5, vS(t), AXIS, 1.5, 'colorbar-major-tick');
    label(cg, cb.r + 14, vS(t) + 7.5, 'start', String(t), '#111', 20.5, 'colorbar-tick-label');
  });
}
sectionPanel('panelB', {l: 775.1, r: 1174.5, t: 91.4, b: 490.7}, 'clipB', {
  grid: o3GridB, windAlt: windAltB, windU: windUB, firstD: 24, stepD: 45.9, nCols: 26, slant: slantWindB,
  contours: [contourBTop, contourBLeft, contourBLoop1, contourBLoop2, contourBLoop3, contourBLoop4, contourBLoop5, contourBLoop6, contourBLoop7, contourBLoop8, contourBLoop9],
  marks: sectionMarksB, tropopause: tropopauseB, dotFirst: 17, dotStep: 18.8, extra: extraDotsB, labelRight: 760,
  cb: {l: 1184.2, r: 1216.6, top: 118.6, tip: 90.7}
});
sectionPanel('panelE', {l: 784.3, r: 1183.3, t: 683.8, b: 1083.1}, 'clipE', {
  grid: o3GridE, windAlt: windAltE, windU: windUE, firstD: 42, stepD: 42, nCols: 28, slant: slantWindE,
  contours: [contourEMain, contourERight],
  marks: sectionMarksE, tropopause: tropopauseE, dotFirst: -2, dotStep: 20.8, extra: extraDotsE, labelRight: 770,
  cb: {l: 1193.4, r: 1225.4, top: 711.5, tip: 683.1}
});
</script>
</body>
</html>
